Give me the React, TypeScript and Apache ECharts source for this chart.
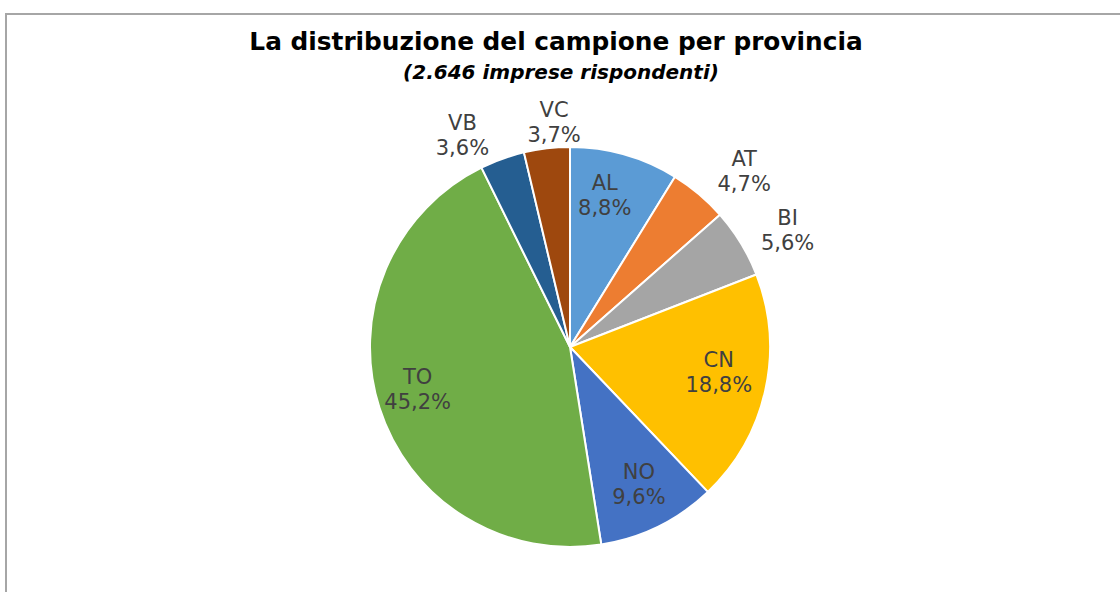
import React, { useEffect, useRef } from "react";
import * as echarts from "echarts";

const categories = ["AL", "AT", "BI", "CN", "NO", "TO", "VB", "VC"];
const values = [8.8, 4.7, 5.6, 18.8, 9.6, 45.2, 3.6, 3.7];
const colors = ["#5B9BD5", "#ED7D31", "#A5A5A5", "#FFC000", "#4472C4", "#70AD47", "#255E91", "#9E480E"];
const titleText = "La distribuzione del campione per provincia";
const subtitleText = "(2.646 imprese rispondenti)";

// label placement (layout only): small rotation of the label ring and distance from the centre
const labelPlacement: Record<string, { turn: number; dist: number }> = {
  AL: { turn: 2.9, dist: 152 },
  AT: { turn: -4.7, dist: 244 },
  BI: { turn: -3.1, dist: 244 },
  CN: { turn: 2.8, dist: 148 },
  NO: { turn: 0.3, dist: 151 },
  TO: { turn: -2.2, dist: 155 },
  VB: { turn: 7.2, dist: 234 },
  VC: { turn: -2.6, dist: 222 },
};

const FONT = "'DejaVu Sans', Verdana, sans-serif";
const fmt = (v: number) => v.toFixed(1).replace(".", ",") + "%";

export default function App() {
  const ref = useRef<HTMLDivElement>(null);
  useEffect(() => {
    document.body.style.margin = "0";
    if (!ref.current) return;
    const chart = echarts.init(ref.current, undefined, { renderer: "svg" });
    const center = [570, 347];
    const labelStyle = {
      color: "#404040",
      fontSize: 21,
      lineHeight: 25,
      fontFamily: FONT,
      position: "inside",
      formatter: (p: any) => `${p.name}\n${fmt(p.value)}`,
    };
    const labelSeries = categories.map((cat) => {
      const pl = labelPlacement[cat];
      return {
        type: "pie",
        center,
        radius: [pl.dist - 40, pl.dist + 40],
        startAngle: 90 + pl.turn,
        clockwise: true,
        silent: true,
        emphasis: { disabled: true },
        label: labelStyle,
        labelLine: { show: false },
        data: categories.map((c, i) => ({
          name: c,
          value: values[i],
          itemStyle: { color: "rgba(0,0,0,0)", borderWidth: 0 },
          label: { show: c === cat },
        })),
      };
    });
    chart.setOption({
      animation: false,
      backgroundColor: "#ffffff",
      title: [
        {
          text: titleText,
          left: 551,
          top: 24,
          textAlign: "center",
          textStyle: { fontFamily: FONT, fontWeight: "bold", fontSize: 24.8, color: "#000000" },
        },
        {
          text: subtitleText,
          left: 556,
          top: 57,
          textAlign: "center",
          textStyle: { fontFamily: FONT, fontWeight: "bold", fontStyle: "italic", fontSize: 20, color: "#000000" },
        },
      ],
      graphic: [
        {
          type: "rect",
          shape: { x: 6, y: 14, width: 1300, height: 800 },
          style: { fill: "none", stroke: "#A6A6A6", lineWidth: 2 },
          silent: true,
        },
      ],
      series: [
        {
          type: "pie",
          center,
          radius: 200,
          startAngle: 90,
          clockwise: true,
          silent: true,
          emphasis: { disabled: true },
          label: { show: false },
          labelLine: { show: false },
          itemStyle: { borderColor: "#ffffff", borderWidth: 2 },
          data: categories.map((c, i) => ({ name: c, value: values[i], itemStyle: { color: colors[i] } })),
        },
        ...labelSeries,
      ],
    });
    return () => chart.dispose();
  }, []);
  return <div ref={ref} style={{ width: 1120, height: 592 }} />;
}
